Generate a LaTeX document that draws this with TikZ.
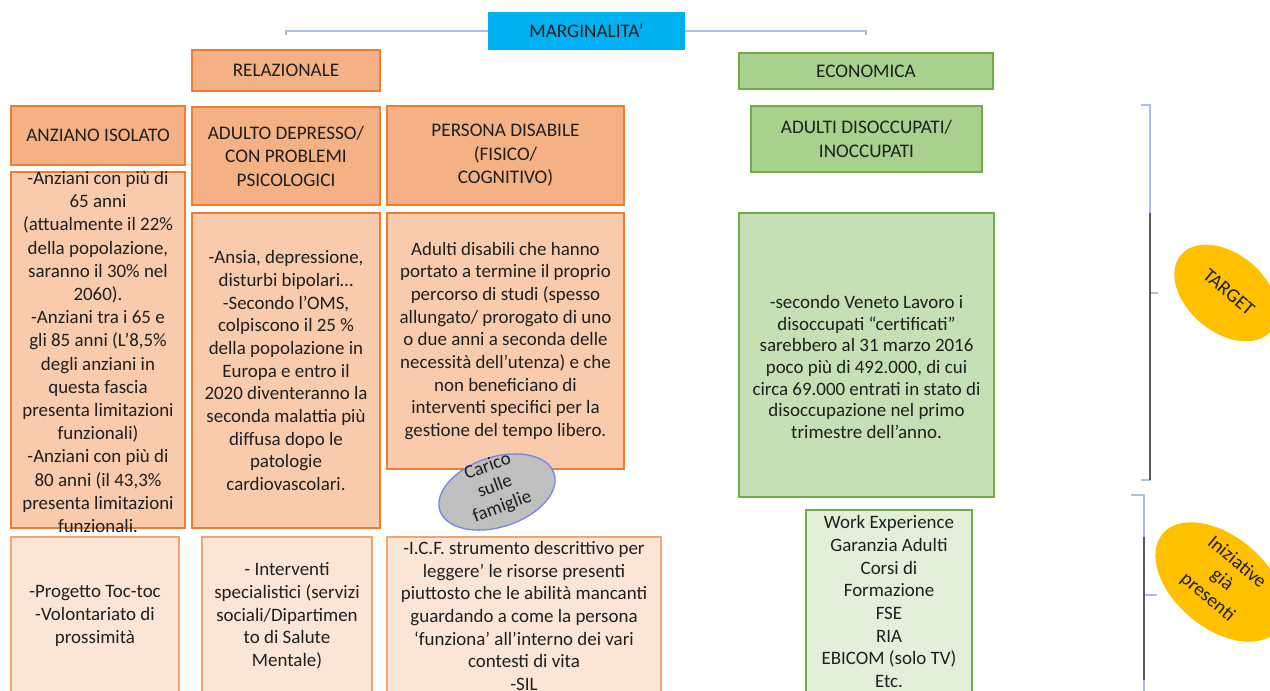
\documentclass[tikz,border=0pt]{standalone}
\usepackage{fontspec}
\setmainfont{Carlito}
\usetikzlibrary{shapes.geometric}
\definecolor{margblue}{HTML}{00B0F0}
\definecolor{relfill}{HTML}{F4B183}
\definecolor{relbody}{HTML}{F8CBAD}
\definecolor{relpale}{HTML}{FBE5D6}
\definecolor{relline}{HTML}{ED7D31}
\definecolor{ecofill}{HTML}{A9D18E}
\definecolor{ecobody}{HTML}{C5E0B4}
\definecolor{ecopale}{HTML}{E2F0D9}
\definecolor{ecoline}{HTML}{70AD47}
\definecolor{linkblue}{HTML}{A9BFE3}
\definecolor{gold}{HTML}{FFC000}
\definecolor{darkbar}{HTML}{595959}
\begin{document}
\begin{tikzpicture}
    [x=0.75pt, y=-0.75pt, font=\fontsize{14.2}{17}\selectfont,
    every node/.style={align=center, inner sep=0pt, text=black!88},
    box/.style 2 args={rectangle, minimum width=#1*0.75pt, minimum height=#2*0.75pt},
    title/.style={font=\fontsize{14.4}{17.6}\selectfont},
    rel/.style={fill=relfill, draw=relline, line width=1pt, title},
    relt/.style={fill=relbody, draw=relline, line width=1pt},
    relp/.style={fill=relpale, draw=relline!70, line width=1pt},
    eco/.style={fill=ecofill, draw=ecoline, line width=1pt, title},
    ecot/.style={fill=ecobody, draw=ecoline, line width=1pt},
    ecop/.style={fill=ecopale, draw=ecoline, line width=1pt},
    tag/.style 2 args={ellipse, fill=gold, minimum width=#1*0.75pt, minimum height=#2*0.75pt, rotate=-40},
    tagtext/.style={rotate=-40, font=\fontsize{14.5}{17}\selectfont},
    link/.style={draw=linkblue, line width=1pt},
    brk/.style={draw=linkblue, line width=1pt},
    brkdark/.style={draw=darkbar, line width=1.5pt}
    ]
    \path[use as bounding box, clip] (0,0) rectangle (1270,691);

    % titoli
    \node [box={197}{38}, fill=margblue, title] (marg) at (586.5,31) {MARGINALITA'};
    \node [box={188}{41}, rel] (rel) at (286,70.5) {RELAZIONALE};
    \node [box={254}{36}, eco] (eco) at (866,71) {ECONOMICA};
    \draw [link] (marg.west) -- (marg.west -| rel.north) -- ++(0,4);
    \draw [link] (marg.east) -- (marg.east -| eco.north) -- ++(0,4);

    % categorie
    \node [box={174}{59}, rel] (anz) at (98,135.5) {ANZIANO ISOLATO};
    \node [box={188}{98}, rel] (dep) at (286,156) {ADULTO DEPRESSO/\\CON PROBLEMI\\PSICOLOGICI};
    \node [box={237}{99}, rel] (dis) at (505.5,155.5) {PERSONA DISABILE\\(FISICO/\\COGNITIVO)};
    \node [box={231}{66}, eco] (occ) at (866.5,139) {ADULTI DISOCCUPATI/\\INOCCUPATI};

    % dati
    \node [box={174}{356}, relt] (anzT) at (98,350) {};
    \node [font=\fontsize{14.2}{17.4}\selectfont] (anzTxt) at (98,352)
        {-Anziani con più di\\65 anni\\(attualmente il 22\%\\della popolazione,\\saranno il 30\% nel\\2060).\\
         -Anziani tra i 65 e\\gli 85 anni (L’8,5\%\\degli anziani in\\questa fascia\\presenta limitazioni\\
         funzionali)\\-Anziani con più di\\80 anni (il 43,3\%\\presenta limitazioni\\funzionali.};
    \node [box={188}{315}, relt] (depT) at (286,370.5)
        {-Ansia, depressione,\\disturbi bipolari…\\-Secondo l’OMS,\\colpiscono il 25 \%\\della popolazione in\\
         Europa e entro il\\2020 diventeranno la\\seconda malattia più\\diffusa dopo le\\patologie\\cardiovascolari.};
    \node [box={237}{256}, relt] (disT) at (505.5,341)
        {Adulti disabili che hanno\\portato a termine il proprio\\percorso di studi (spesso\\
         allungato/ prorogato di uno\\o due anni a seconda delle\\necessità dell'utenza) e che\\
         non beneficiano di\\interventi specifici per la\\gestione del tempo libero.};
    \node [box={255}{284}, ecot] (occT) at (866.5,355) {};
    \node [font=\fontsize{14.2}{16.3}\selectfont] (occTxt) at (866.5,367)
        {-secondo Veneto Lavoro i\\disoccupati “certificati”\\sarebbero al 31 marzo 2016\\
         poco più di 492.000, di cui\\circa 69.000 entrati in stato di\\disoccupazione nel primo\\trimestre dell’anno.};
    \node [ellipse, fill=black!25, draw=linkblue!70!blue, line width=1pt, minimum width=120*0.75pt,
        minimum height=70*0.75pt, rotate=18] (carico) at (497,492) {};
    \node [rotate=20, font=\fontsize{14.2}{16}\selectfont] (caricoTxt) at (495,487) {Carico\\sulle\\famiglie};

    % iniziative
    \node [box={168}{158}, relp] (anzI) at (95,616)
        {-Progetto Toc-toc\\-Volontariato di\\prossimità};
    \node [box={170}{158}, relp] (depI) at (287,616)
        {- Interventi\\specialistici (servizi\\sociali/Dipartimen\\to di Salute\\Mentale)};
    \node [box={274}{158}, relp] (disI) at (524,616)
        {-I.C.F. strumento descrittivo per\\leggere’ le risorse presenti\\piuttosto che le abilità mancanti\\
         guardando a come la persona\\‘funziona’ all’interno dei vari\\contesti di vita\\-SIL};
    \node [box={166}{183}, ecop] (occI) at (889,601.5)
        {Work Experience\\Garanzia Adulti\\Corsi di\\Formazione\\FSE\\RIA\\EBICOM (solo TV)\\Etc.};

    % parentesi
    \coordinate (b1) at (1150,105);
    \coordinate (b2) at (1150,480);
    \coordinate (b3) at (1144,495);
    \coordinate (b4) at (1144,700);
    \draw [brk] (1141,105) -- (b1) -- (b2) -- (1141,480);
    \draw [brk] (1150,293) -- (1158,293);
    \draw [brkdark] (1150,213) -- (b2);
    \draw [brk] (1131,495) -- (b3) -- (b4);
    \draw [brk] (1144,595) -- (1157,595);
    \draw [brkdark] (1144,537) -- (1144,680);

    \node [tag={118}{78}] (target) at (1226,293) {};
    \node [tagtext] (targetTxt) at (1229,292) {TARGET};
    \node [tag={150}{92}] (iniz) at (1220,582) {};
    \node [tagtext] (inizTxt) at (1222,580) {Iniziative\\già\\presenti};
\end{tikzpicture}
\end{document}
